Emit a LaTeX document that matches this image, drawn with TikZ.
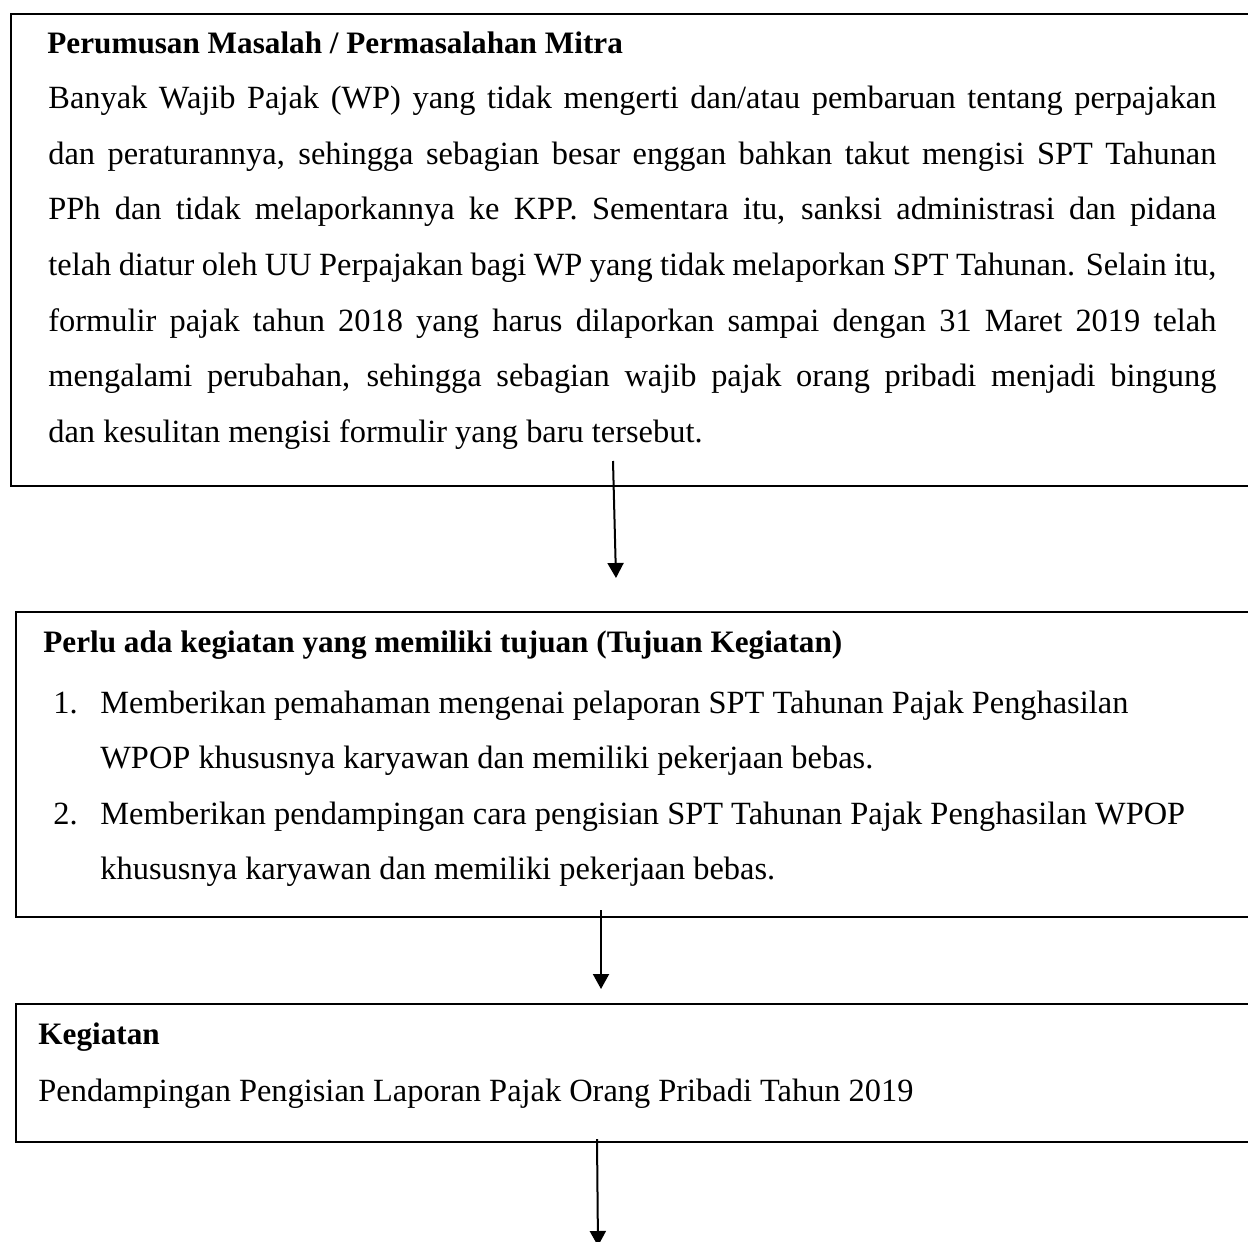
\documentclass[tikz,border=0pt]{standalone}
\usepackage{fontspec}
\setmainfont{Liberation Serif}
\usetikzlibrary{arrows.meta,fit}
\begin{document}
\begin{tikzpicture}[x=0.5pt,y=-0.5pt,
  boxline/.style={draw=black, line width=1.1pt, inner sep=0pt},
  txt/.style={anchor=base west, inner sep=0pt, font=\fontsize{16.2}{19}\selectfont},
  ttl/.style={anchor=base west, inner sep=0pt, font=\fontsize{15.6}{19}\selectfont\bfseries},
  arr/.style={line width=1pt, -{Triangle[width=8pt,length=7.5pt]}}]
\useasboundingbox (0,0) rectangle (1248,1242);
% boxes
\coordinate (b1nw) at (11,14);   \coordinate (b1se) at (1262,486);
\coordinate (b2nw) at (16,612);  \coordinate (b2se) at (1262,917);
\coordinate (b3nw) at (16,1004); \coordinate (b3se) at (1262,1142);
\node[boxline, fit=(b1nw)(b1se)] (box1) {};
\node[boxline, fit=(b2nw)(b2se)] (box2) {};
\node[boxline, fit=(b3nw)(b3se)] (box3) {};
% box 1 text
\node[ttl] (t1) at (47,54) {Perumusan Masalah / Permasalahan Mitra};
\node[txt] (l1) at (48,108) {\makebox[584pt][s]{Banyak Wajib Pajak (WP) yang tidak mengerti dan/atau pembaruan tentang perpajakan}};
\node[txt] (l2) at (48,164) {\makebox[584pt][s]{dan peraturannya, sehingga sebagian besar enggan bahkan takut mengisi SPT Tahunan}};
\node[txt] (l3) at (48,219) {\makebox[584pt][s]{PPh dan tidak melaporkannya ke KPP. Sementara itu, sanksi administrasi dan pidana}};
\node[txt] (l4) at (48,275) {\makebox[584pt][s]{telah diatur oleh UU Perpajakan bagi WP yang tidak melaporkan SPT Tahunan. Selain itu,}};
\node[txt] (l5) at (48,331) {\makebox[584pt][s]{formulir pajak tahun 2018 yang harus dilaporkan sampai dengan 31 Maret 2019 telah}};
\node[txt] (l6) at (48,386) {\makebox[584pt][s]{mengalami perubahan, sehingga sebagian wajib pajak orang pribadi menjadi bingung}};
\node[txt] (l7) at (48,442) {dan kesulitan mengisi formulir yang baru tersebut.};
% box 2 text
\node[ttl] (t2) at (43,652) {Perlu ada kegiatan yang memiliki tujuan (Tujuan Kegiatan)};
\node[txt] (n1) at (53,713) {1.};
\node[txt] (i1a) at (100,713) {Memberikan pemahaman mengenai pelaporan SPT Tahunan Pajak Penghasilan};
\node[txt] (i1b) at (100,768) {WPOP khususnya karyawan dan memiliki pekerjaan bebas.};
\node[txt] (n2) at (53,824) {2.};
\node[txt] (i2a) at (100,824) {Memberikan pendampingan cara pengisian SPT Tahunan Pajak Penghasilan WPOP};
\node[txt] (i2b) at (100,879) {khususnya karyawan dan memiliki pekerjaan bebas.};
% box 3 text
\node[ttl] (t3) at (38,1044) {Kegiatan};
\node[txt] (k1) at (38,1101) {Pendampingan Pengisian Laporan Pajak Orang Pribadi Tahun 2019};
% arrows
\coordinate (a1s) at (613,461);  \coordinate (a1e) at (616,578);
\coordinate (a2s) at (601,910);  \coordinate (a2e) at (601,989);
\coordinate (a3s) at (597,1139); \coordinate (a3e) at (598,1246);
\draw[arr] (a1s) -- (a1e);
\draw[arr] (a2s) -- (a2e);
\draw[arr] (a3s) -- (a3e);
\end{tikzpicture}
\end{document}
